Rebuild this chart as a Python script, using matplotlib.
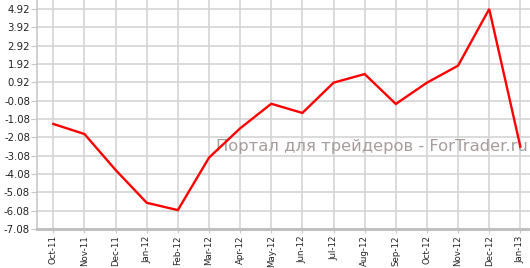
import matplotlib
matplotlib.use("Agg")
import matplotlib.pyplot as plt

months = ["Oct-11", "Nov-11", "Dec-11", "Jan-12", "Feb-12", "Mar-12", "Apr-12", "May-12",
          "Jun-12", "Jul-12", "Aug-12", "Sep-12", "Oct-12", "Nov-12", "Dec-12", "Jan-13"]
values = [-1.35, -1.90, -3.86, -5.65, -6.05, -3.19, -1.59, -0.25,
          -0.75, 0.90, 1.37, -0.26, 0.90, 1.83, 4.92, -2.59]
yticks = [4.92, 3.92, 2.92, 1.92, 0.92, -0.08, -1.08, -2.08, -3.08, -4.08, -5.08, -6.08, -7.08]
ytick_labels = ["4.92", "3.92", "2.92", "1.92", "0.92", "-0.08", "-1.08", "-2.08",
                "-3.08", "-4.08", "-5.08", "-6.08", "-7.08"]
watermark = "Портал для трейдеров - ForTrader.ru"

fig = plt.figure(figsize=(5.30, 2.68), dpi=100)
ax = fig.add_axes([37/530, 39/268, 493/530, 229/268])

x = list(range(len(months)))
ax.plot(x, values, color="#ff0000", lw=1.7, zorder=3, solid_joinstyle="miter")

ax.set_xlim(-0.524, 15.31)
ax.set_ylim(-7.08, 5.41)
ax.set_xticks(x)
ax.set_xticklabels(months, rotation=90, fontsize=6.2, color="#222222")
ax.set_yticks(yticks)
ax.set_yticklabels(ytick_labels, fontsize=7.3, color="#222222")

ax.grid(True, color="#d4d4d4", lw=1.2)
ax.set_axisbelow(True)
for s in ["top", "right"]:
    ax.spines[s].set_visible(False)
ax.spines["left"].set_color("#c8c8c8")
ax.spines["left"].set_linewidth(1.2)
ax.spines["bottom"].set_color("#c0c0c0")
ax.spines["bottom"].set_linewidth(2.2)
ax.tick_params(axis="y", length=4, color="#c8c8c8", pad=1)
ax.tick_params(axis="x", length=3, color="#c8c8c8", pad=1.5)

ax.text(0.995, 0.36, watermark, transform=ax.transAxes, ha="right", va="center",
        fontsize=11.8, color="#a89c9c", zorder=2)

fig.savefig("out.png", dpi=100)
